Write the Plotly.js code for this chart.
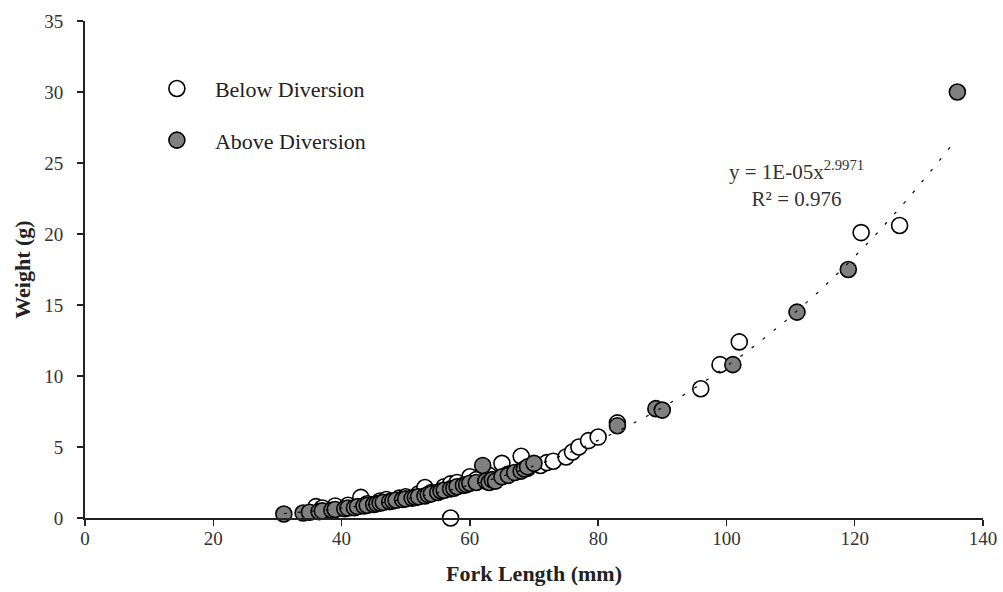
<!DOCTYPE html>
<html>
<head>
<meta charset="utf-8">
<script src="https://cdn.plot.ly/plotly-3.0.1.min.js"></script>
<style>html,body{margin:0;padding:0;background:#fff;}#chart{width:1003px;height:592px;}</style>
</head>
<body>
<div id="chart"></div>
<script>
// Below Diversion (white markers)
var belowX = [36, 37, 39, 41, 43, 44, 46, 47, 49, 50, 52, 53, 54, 56, 57, 57, 58, 60, 61, 63, 65, 66, 68, 69, 71, 72, 73, 75, 76, 77, 78.5, 80, 83, 96, 99, 102, 121, 127];
var belowY = [0.8, 0.7, 0.85, 0.9, 1.45, 1.0, 1.2, 1.3, 1.4, 1.5, 1.7, 2.15, 1.8, 2.2, 0.0, 2.4, 2.5, 2.9, 2.7, 3.0, 3.85, 3.1, 4.35, 3.5, 3.7, 3.9, 4.0, 4.3, 4.65, 5.0, 5.45, 5.7, 6.7, 9.1, 10.8, 12.4, 20.1, 20.6];

// Above Diversion (grey markers)
var aboveX = [31, 34, 35, 36.5, 37, 38.5, 39, 40.5, 41, 42, 42.5, 43.5, 44, 45, 45.5, 46, 46.5, 47.5, 48, 48.5, 49.5, 50, 51, 51.5, 52, 53, 53.5, 54, 55, 55.5, 56, 57, 57.5, 58, 59, 59.5, 60, 61, 62, 62.5, 63, 63.5, 64, 65, 66, 67, 68, 68.5, 69, 70, 83, 89, 90, 101, 111, 119, 136];
var aboveY = [0.28, 0.35, 0.4, 0.45, 0.5, 0.55, 0.6, 0.65, 0.7, 0.72, 0.8, 0.85, 0.9, 0.95, 1.0, 1.05, 1.1, 1.15, 1.2, 1.25, 1.3, 1.35, 1.4, 1.45, 1.5, 1.55, 1.65, 1.7, 1.8, 1.9, 1.95, 2.05, 2.1, 2.2, 2.3, 2.35, 2.45, 2.5, 3.7, 2.6, 2.5, 2.7, 2.6, 2.9, 3.0, 3.2, 3.3, 3.45, 3.6, 3.85, 6.5, 7.7, 7.6, 10.8, 14.5, 17.5, 30.0];

// Power trendline parameters (y = a * x^b) as fitted in the original
var trendA = 1.08e-5;
var trendB = 2.9971;
var trendXMin = 31, trendXMax = 135;
var equationText = 'y = 1E-05x<sup>2.9971</sup><br>R² = 0.976';

var xTickVals = [0, 20, 40, 60, 80, 100, 120, 140];
var yTickVals = [0, 5, 10, 15, 20, 25, 30, 35];

var trendX = [], trendY = [];
for (var i = 0; i <= 200; i++) {
  var xv = trendXMin + (trendXMax - trendXMin) * i / 200;
  trendX.push(xv);
  trendY.push(trendA * Math.pow(xv, trendB));
}

var FONT = 'Liberation Serif, Times New Roman, serif';

var traces = [
  {
    x: belowX, y: belowY, type: 'scatter', mode: 'markers', name: 'Below Diversion',
    legendgroup: 'a',
    marker: {size: 16, color: '#ffffff', line: {color: '#000000', width: 1.6}},
    cliponaxis: false
  },
  {
    x: aboveX, y: aboveY, type: 'scatter', mode: 'markers', name: 'Above Diversion',
    legendgroup: 'b',
    marker: {size: 16, color: '#808080', line: {color: '#000000', width: 1.6}},
    cliponaxis: false
  },
  {
    x: trendX, y: trendY, type: 'scatter', mode: 'lines', showlegend: false,
    line: {color: '#000000', width: 1.2, dash: '3px,11px'},
    hoverinfo: 'skip'
  }
];

var layout = {
  width: 1003, height: 592,
  margin: {l: 85, r: 20, t: 21, b: 74},
  paper_bgcolor: '#ffffff', plot_bgcolor: '#ffffff',
  font: {family: FONT, size: 18, color: '#222222'},
  showlegend: true,
  legend: {
    x: 0.06, y: 0.906, xanchor: 'left', yanchor: 'top',
    traceorder: 'grouped', tracegroupgap: 20,
    itemwidth: 66,
    font: {family: FONT, size: 22, color: '#222222'},
    bgcolor: 'rgba(0,0,0,0)'
  },
  xaxis: {
    range: [0, 140], tickvals: xTickVals, ticktext: xTickVals.map(String),
    showgrid: false, zeroline: false, showline: true, linecolor: '#222222', linewidth: 2,
    ticks: 'outside', ticklen: 6, tickwidth: 1.3, tickcolor: '#222222',
    ticklabelstandoff: -4,
    tickfont: {family: FONT, size: 19, color: '#333333'},
    title: {text: '<b>Fork Length (mm)</b>', font: {family: FONT, size: 22, color: '#222222'}, standoff: 18}
  },
  yaxis: {
    range: [0, 35], tickvals: yTickVals, ticktext: yTickVals.map(String),
    showgrid: false, zeroline: false, showline: true, linecolor: '#222222', linewidth: 2,
    ticks: 'outside', ticklen: 6, tickwidth: 1.3, tickcolor: '#222222',
    ticklabelstandoff: 10,
    tickfont: {family: FONT, size: 19, color: '#333333'},
    title: {text: '<b>Weight (g)</b>', font: {family: FONT, size: 22, color: '#222222'}, standoff: 8}
  },
  annotations: [
    {
      x: 111, y: 23.5, xref: 'x', yref: 'y', text: equationText, showarrow: false,
      align: 'center', font: {family: FONT, size: 21, color: '#333333'}
    }
  ]
};

Plotly.newPlot('chart', traces, layout, {displayModeBar: false, staticPlot: true});
</script>
</body>
</html>
